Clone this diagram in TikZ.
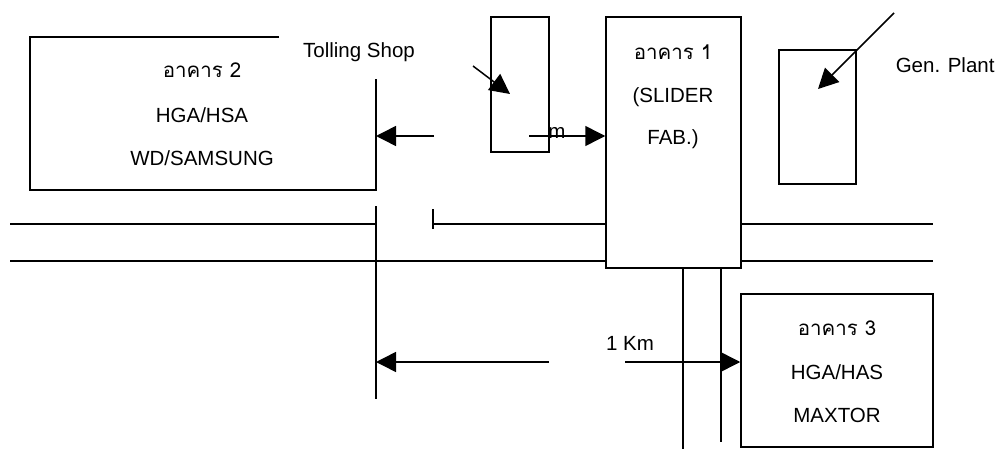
\documentclass[tikz,border=0pt]{standalone}
\usepackage{fontspec}
\setmainfont{Liberation Sans}
\newfontfamily\thaifont[Script=Thai]{Loma}
\usetikzlibrary{positioning, arrows.meta, calc}

\tikzset{
  bldg/.style={draw, line width=1.5pt, inner sep=0pt},
  txt/.style={inner sep=0pt, font=\fontsize{20.5}{24}\selectfont},
  thtxt/.style={inner sep=0pt, font=\fontsize{20.5}{24}\selectfont\thaifont},
  tip/.style={-{Triangle[length=20pt,width=20pt]}}
}

\begin{document}
\begin{tikzpicture}[x=1pt, y=-1pt, line width=1.5pt]
    \useasboundingbox (0,0) rectangle (995,449);

    % buildings
    \node[bldg, minimum width=135pt, minimum height=251pt] (b1) at (673.5,142.5) {};
    \node[bldg, minimum width=58pt, minimum height=135pt] (shop) at (520,84.5) {};
    \node[bldg, minimum width=77pt, minimum height=134pt] (gen) at (817.5,117) {};
    \node[bldg, minimum width=192pt, minimum height=153pt] (b3) at (837,370.5) {};

    % building 2, open at the top right
    \draw (279,37) -- (30,37) -- (30,190) -- (376,190) coordinate(b2br) -- (376,79) coordinate(b2rt);

    \node[thtxt] (b2a) at (202,70) {อาคาร 2};
    \node[txt] (b2b) at (202,115) {HGA/HSA};
    \node[txt] (b2c) at (202,158) {WD/SAMSUNG};
    \node[txt] (toll) at (359,52) {Tolling Shop};

    \node[thtxt] (b1a) at (673,52) {อาคาร 1};
    \node[txt] (b1b) at (673,97) {(SLIDER};
    \node[txt] (b1c) at (673,139) {FAB.)};

    \node[txt, anchor=west] (genl) at (895,65) {Gen. Plant};

    \node[thtxt] (b3a) at (837,328) {อาคาร 3};
    \node[txt] (b3b) at (837,372) {HGA/HAS};
    \node[txt] (b3c) at (837,415) {MAXTOR};

    % roads
    \draw (10,224) -- (376,224);
    \draw (433,209) -- (433,229);
    \draw (433,224) -- (433,224 -| b1.west);
    \draw (10,261) -- (10,261 -| b1.west);
    \draw (b1.east |- 0,224) -- (933,224);
    \draw (b1.east |- 0,261) -- (933,261);
    \draw (376,206) coordinate(wtop) -- (376,399) coordinate(wbot);
    \draw (683,0 |- b1.south) -- (683,449);
    \draw (721,0 |- b1.south) -- (721,442);

    % distances
    \draw[tip] (434,136) coordinate(ta) -- (376,136);
    \draw[tip] (529,136) coordinate(ma) -- (b1.west |- ma);
    \node[txt] (mlbl) at (557,133) {m};
    \draw[tip] (549,362) coordinate(ka) -- (wtop |- ka);
    \draw[tip] (625,362) coordinate(kb) -- (b3.west |- kb);
    \node[txt] (kml) at (630,343) {1 Km};

    % pointers
    \draw[tip] (473,66) coordinate(pa) -- (510,94);
    \draw[tip] (894,13) coordinate(pb) -- (818,89);

\end{tikzpicture}
\end{document}
